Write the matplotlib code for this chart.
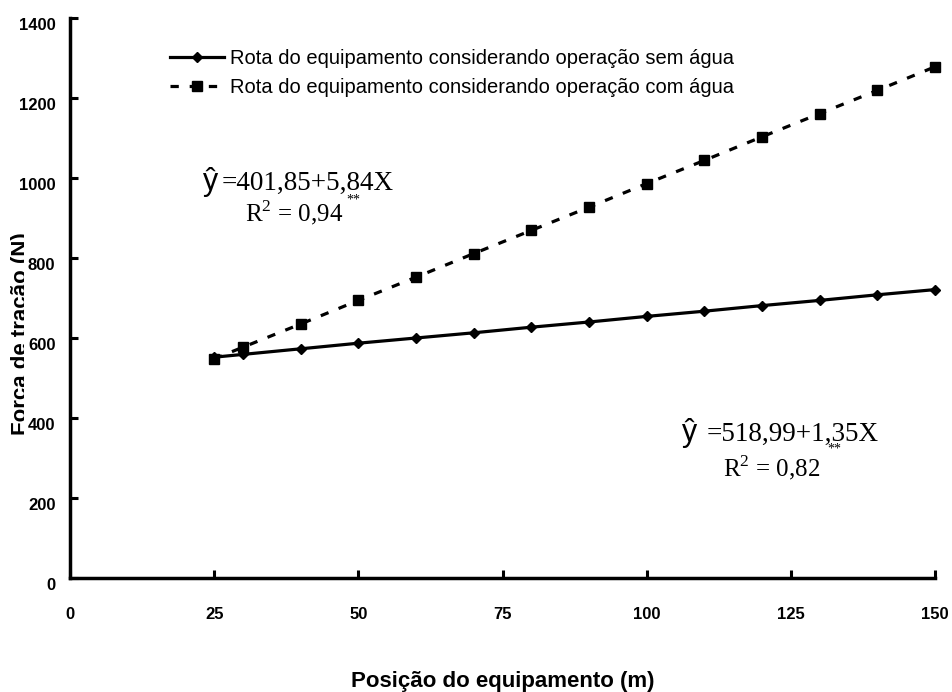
import numpy as np
import matplotlib
matplotlib.use('Agg')
import matplotlib.pyplot as plt
import matplotlib.transforms as mtransforms
from matplotlib.patches import Rectangle

# posicao do equipamento (m) e forca de tracao (N)
posicao = [25, 30, 40, 50, 60, 70, 80, 90, 100, 110, 120, 130, 140, 150]
sem_agua = [552, 559, 573, 587, 600, 613, 627, 640, 654, 667, 681, 694, 708, 721]
com_agua = [548, 577, 635, 694, 752, 811, 869, 927, 986, 1044, 1103, 1161, 1219, 1278]
xticks = [0, 25, 50, 75, 100, 125, 150]
yticks = [0, 200, 400, 600, 800, 1000, 1200, 1400]
rotulos = ['Rota do equipamento considerando operação sem água',
           'Rota do equipamento considerando operação com água']
eq_com = ['=401,85+5,84X', r'$\mathrm{R}^{2}$ = 0,94']
eq_sem = ['=518,99+1,35X', r'$\mathrm{R}^{2}$ = 0,82']

plt.rcParams['font.family'] = ['Liberation Sans', 'DejaVu Sans']
plt.rcParams['mathtext.fontset'] = 'custom'
plt.rcParams['mathtext.rm'] = 'Liberation Serif'

fig = plt.figure(figsize=(9.52, 6.92), dpi=100)
ax = fig.add_axes([70/952, 114/692, 865/952, 560/692])

ax.plot(posicao, sem_agua, color='black', lw=2.3, marker='D', ms=5.5,
        label=rotulos[0], clip_on=False, zorder=3)
ax.plot(posicao, com_agua, color='black', lw=2.3, ls=(0, (2.6, 3.4)), marker='s',
        ms=7, label=rotulos[1], clip_on=False, zorder=3)

ax.set_xlim(0, 150)
ax.set_ylim(0, 1400)
ax.set_xticks(xticks)
ax.set_yticks(yticks)
for s in ['top', 'right']:
    ax.spines[s].set_visible(False)
for s in ['left', 'bottom']:
    ax.spines[s].set_linewidth(2.5)
ax.tick_params(axis='both', direction='in', length=6, width=2.2, labelsize=12)
ax.tick_params(axis='x', pad=21)
ax.tick_params(axis='y', pad=10.5)
off = mtransforms.ScaledTranslation(0, -0.06, fig.dpi_scale_trans)
for lbl in ax.get_yticklabels():
    lbl.set_fontweight('bold')
    lbl.set_transform(lbl.get_transform() + off)
for lbl in ax.get_xticklabels():
    lbl.set_fontweight('bold')

ax.set_xlabel('Posição do equipamento (m)', fontsize=16, fontweight='bold')
ax.xaxis.set_label_coords(0.5, -0.166)

# rotulo do eixo y parcialmente encoberto, como no original
fig.text(22/952, 1 - 334/692, 'Força de tração (N)', rotation=90, fontsize=16,
         fontweight='bold', ha='center', va='center', zorder=-1)
fig.patches.append(Rectangle((24/952, 0), 46/952, 1, transform=fig.transFigure,
                             facecolor='white', edgecolor='none', zorder=-0.5))

ax.legend(loc='upper left', bbox_to_anchor=(0.1156, 0.944), borderaxespad=0,
          borderpad=0, frameon=False, fontsize=14.5, handlelength=2.7,
          handletextpad=0.3, labelspacing=0.5)

# equacoes de regressao
ax.text(24.45, 970, 'ŷ', fontsize=22, ha='center', va='baseline')
ax.text(26.36, 970, eq_com[0], fontsize=19.5, family='Liberation Serif', va='baseline')
ax.text(30.35, 892, eq_com[1], fontsize=18, family='Liberation Serif', va='baseline')
ax.text(48.0, 945, '**', fontsize=10, family='Liberation Serif', va='center')

ax.text(107.5, 342, 'ŷ', fontsize=22, ha='center', va='baseline')
ax.text(110.45, 342, eq_sem[0], fontsize=19.5, family='Liberation Serif', va='baseline')
ax.text(113.2, 255, eq_sem[1], fontsize=18, family='Liberation Serif', va='baseline')
ax.text(131.3, 322, '**', fontsize=10, family='Liberation Serif', va='center')

fig.savefig('out.png', dpi=100)
